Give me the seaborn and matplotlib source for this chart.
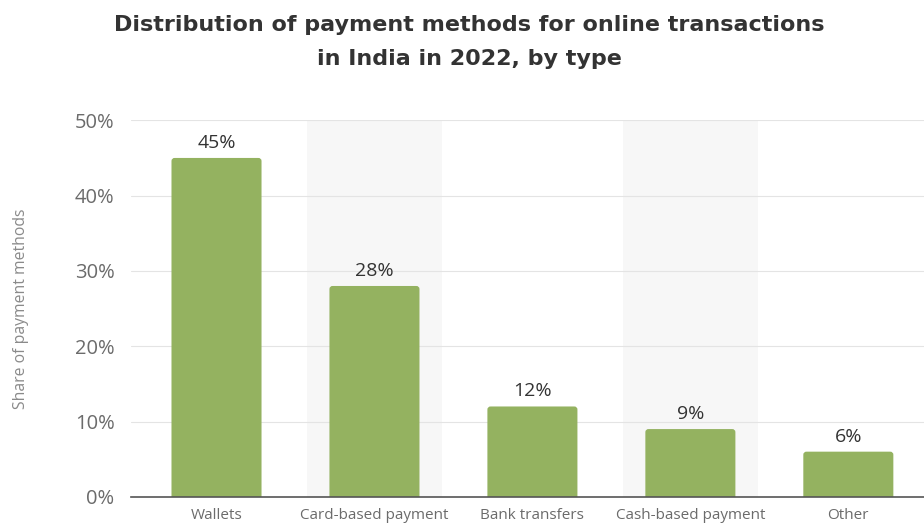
import matplotlib
matplotlib.use("Agg")
import matplotlib.pyplot as plt
from matplotlib.patches import FancyBboxPatch
import seaborn as sns
import pandas as pd

categories = ["Wallets", "Card-based payment", "Bank transfers", "Cash-based payment", "Other"]
shares = [45, 28, 12, 9, 6]
yticks = [0, 10, 20, 30, 40, 50]
ytick_labels = ["0%", "10%", "20%", "30%", "40%", "50%"]

df = pd.DataFrame({"method": categories, "share": shares})

sns.set_theme(style="white")
plt.rcParams["font.family"] = ["Open Sans", "DejaVu Sans"]

fig = plt.figure(figsize=(9.24, 5.23), dpi=100)
ax = fig.add_axes([0.142, 0.05, 0.865, 0.72])

bar_color = "#94b260"
sns.barplot(data=df, x="method", y="share", color=bar_color, width=0.57,
            saturation=1, ax=ax, zorder=3)

ax.set_ylim(0, 50)
ax.set_xlim(-0.54, len(categories) - 0.48)

# give the bars slightly rounded tops; bottoms sit below the axis and get clipped
for p in list(ax.patches):
    x, w, h = p.get_x(), p.get_width(), p.get_height()
    rounded = FancyBboxPatch((x, -1), w, h + 1,
                             boxstyle="round,pad=0,rounding_size=0.02",
                             mutation_aspect=20, facecolor=bar_color,
                             edgecolor="none", zorder=3)
    ax.add_patch(rounded)
    p.set_visible(False)

# shaded bands behind every second category
for i in range(len(categories)):
    if i % 2 == 1:
        ax.axvspan(i - 0.425, i + 0.425, color="#f7f7f7", zorder=0, lw=0)

ax.set_yticks(yticks)
ax.set_yticklabels(ytick_labels)
ax.yaxis.grid(True, color="#e4e4e4", lw=0.8, zorder=1)
ax.set_axisbelow(True)

for s in ["top", "right", "left"]:
    ax.spines[s].set_visible(False)
ax.spines["bottom"].set_color("#555555")
ax.spines["bottom"].set_linewidth(1.2)
ax.spines["bottom"].set_zorder(4)

ax.tick_params(axis="y", length=0, pad=12, labelsize=14.5, labelcolor="#6b6b6b")
ax.tick_params(axis="x", length=0, pad=8, labelsize=11, labelcolor="#6b6b6b")
ax.set_xlabel("")
ax.set_ylabel("Share of payment methods", fontsize=11.3, color="#8a8a8a", labelpad=33)

for i, v in enumerate(shares):
    ax.text(i, v + 0.8, f"{v}%", ha="center", va="bottom", fontsize=14,
            color="#333333", zorder=5)

fig.text(0.508, 0.972, "Distribution of payment methods for online transactions\nin India in 2022, by type",
         ha="center", va="top", fontsize=16, fontweight="bold", color="#333333",
         family=["DejaVu Sans"], linespacing=1.9)

fig.savefig("out.png", dpi=100)
